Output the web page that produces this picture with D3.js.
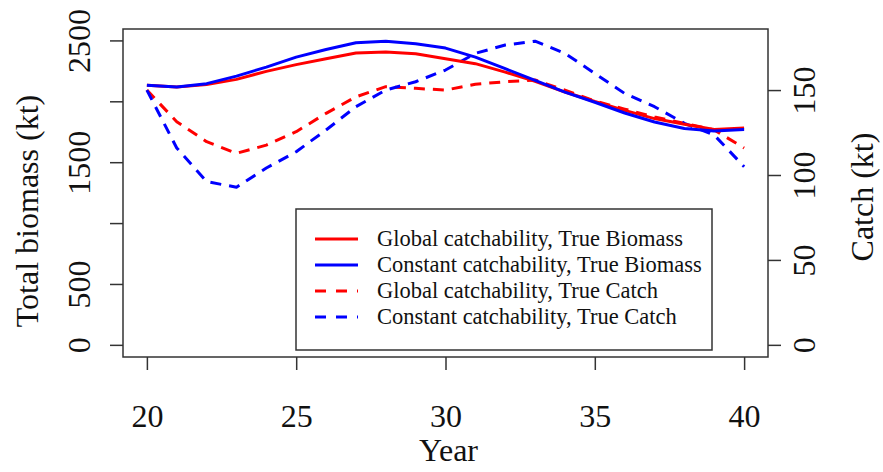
<!DOCTYPE html>
<html>
<head>
<meta charset="utf-8">
<script src="https://cdn.jsdelivr.net/npm/d3@7/dist/d3.min.js"></script>
<style>
  html, body { margin: 0; padding: 0; background: #fff; }
  svg { display: block; }
  text { font-family: "Liberation Serif", "Times New Roman", serif; fill: #111; }
</style>
</head>
<body>
<svg id="chart" width="883" height="472"></svg>
<script>
// Simulation years
const years = d3.range(20, 41);

// Total biomass (kt), left axis
const biomassGlobal   = [2131, 2117, 2137, 2180, 2246, 2301, 2350, 2396, 2404, 2391, 2350,
                         2309, 2240, 2164, 2076, 1998, 1926, 1858, 1811, 1768, 1781];
const biomassConstant = [2131, 2117, 2145, 2207, 2281, 2363, 2426, 2481, 2494, 2473, 2437,
                         2363, 2268, 2172, 2076, 1992, 1904, 1830, 1776, 1757, 1768];

// Catch (kt), right axis
const catchGlobal   = [150, 131.4, 119.6, 112.8, 117.6, 125.5, 136.3, 146, 152, 151, 150,
                       153.4, 154.9, 155.9, 150, 143.5, 138.8, 134.1, 130.4, 126.5, 115.9];
const catchConstant = [150, 115.9, 96.1, 92.8, 104.1, 113.7, 126.5, 140.2, 150, 154.9, 161.8,
                       171.6, 176.5, 178.8, 171.6, 159.8, 148, 140.2, 130.4, 123.5, 104.9];

// Axis ticks and labels
const xTicks = [20, 25, 30, 35, 40];
const leftTicks = [0, 500, 1000, 1500, 2000, 2500];
const leftLabelled = [0, 500, 1500, 2500];
const rightTicks = [0, 50, 100, 150];

const legendLabels = [
  "Global catchability, True Biomass",
  "Constant catchability, True Biomass",
  "Global catchability, True Catch",
  "Constant catchability, True Catch"
];

const RED = "#ff0000", BLUE = "#0000ff";

const svg = d3.select("#chart");
const box = { left: 123, right: 768, top: 29, bottom: 357 };

// R-style 4% padding around the data range
function padded(lo, hi) { const p = (hi - lo) * 0.04; return [lo - p, hi + p]; }

const x = d3.scaleLinear().domain(padded(20, 40)).range([box.left, box.right]);
const bMax = d3.max(biomassConstant.concat(biomassGlobal));
const yL = d3.scaleLinear().domain(padded(0, bMax)).range([box.bottom, box.top]);
const cMax = d3.max(catchConstant.concat(catchGlobal));
const yR = d3.scaleLinear().domain(padded(0, cMax)).range([box.bottom, box.top]);

const axisColor = "#333";
const tickFont = "32px";

// Bottom axis
const gx = svg.append("g").attr("transform", `translate(0,${box.bottom})`)
  .call(d3.axisBottom(x).tickValues(xTicks).tickSize(13).tickPadding(34).tickSizeOuter(0));
gx.select(".domain").remove();
gx.selectAll("line").attr("stroke", axisColor).attr("stroke-width", 1.5);
gx.selectAll("text").style("font-size", tickFont).attr("fill", "#111")
  .attr("font-family", "Liberation Serif");

// Left axis
const gl = svg.append("g").attr("transform", `translate(${box.left},0)`)
  .call(d3.axisLeft(yL).tickValues(leftTicks).tickSize(13).tickSizeOuter(0)
    .tickFormat(d => leftLabelled.includes(d) ? d : ""));
gl.select(".domain").remove();
gl.selectAll("line").attr("stroke", axisColor).attr("stroke-width", 1.5);
gl.selectAll("text").style("font-size", tickFont).attr("fill", "#111")
  .attr("font-family", "Liberation Serif")
  .attr("x", null).attr("dy", null).attr("text-anchor", "middle")
  .attr("transform", "translate(-33,0) rotate(-90)");

// Right axis
const gr = svg.append("g").attr("transform", `translate(${box.right},0)`)
  .call(d3.axisRight(yR).tickValues(rightTicks).tickSize(13).tickSizeOuter(0));
gr.select(".domain").remove();
gr.selectAll("line").attr("stroke", axisColor).attr("stroke-width", 1.5);
gr.selectAll("text").style("font-size", tickFont).attr("fill", "#111")
  .attr("font-family", "Liberation Serif")
  .attr("x", null).attr("dy", null).attr("text-anchor", "middle")
  .attr("transform", "translate(47,0) rotate(-90)");

// Plot frame
svg.append("rect")
  .attr("x", box.left).attr("y", box.top)
  .attr("width", box.right - box.left).attr("height", box.bottom - box.top)
  .attr("fill", "none").attr("stroke", axisColor).attr("stroke-width", 1.5);

// Axis titles
svg.append("text").attr("transform", `translate(${(box.left + box.right) / 2 + 3},461)`)
  .attr("text-anchor", "middle").style("font-size", "32px").text("Year");
svg.append("text").attr("transform", `translate(38,${(box.top + box.bottom) / 2 + 18}) rotate(-90)`)
  .attr("text-anchor", "middle").style("font-size", "32px").text("Total biomass (kt)");
svg.append("text").attr("transform", `translate(873,${(box.top + box.bottom) / 2 + 4}) rotate(-90)`)
  .attr("text-anchor", "middle").style("font-size", "32px").text("Catch (kt)");

// Series
const lineL = d3.line().x((d, i) => x(years[i])).y(d => yL(d));
const lineR = d3.line().x((d, i) => x(years[i])).y(d => yR(d));

const series = [
  { data: biomassGlobal,   gen: lineL, color: RED,  dash: null },
  { data: biomassConstant, gen: lineL, color: BLUE, dash: null },
  { data: catchGlobal,     gen: lineR, color: RED,  dash: "11,8" },
  { data: catchConstant,   gen: lineR, color: BLUE, dash: "11,8" }
];

const plot = svg.append("g");
// dashed catch lines underneath the biomass lines
[2, 3, 0, 1].forEach(k => {
  const s = series[k];
  plot.append("path")
    .attr("d", s.gen(s.data))
    .attr("fill", "none")
    .attr("stroke", s.color)
    .attr("stroke-width", 3)
    .attr("stroke-linejoin", "round")
    .attr("stroke-dasharray", s.dash);
});

// Legend
const lg = svg.append("g");
lg.append("rect").attr("x", 296).attr("y", 209).attr("width", 416).attr("height", 141)
  .attr("fill", "#fff").attr("stroke", axisColor).attr("stroke-width", 1.5);
legendLabels.forEach((lab, i) => {
  const yy = 239 + i * 26;
  lg.append("line").attr("x1", 315).attr("x2", 358).attr("y1", yy).attr("y2", yy)
    .attr("stroke", series[i].color).attr("stroke-width", 3)
    .attr("stroke-dasharray", series[i].dash ? "11,10" : null);
  lg.append("text").attr("x", 377).attr("y", yy + 7).style("font-size", "22.5px").text(lab);
});
</script>
</body>
</html>
